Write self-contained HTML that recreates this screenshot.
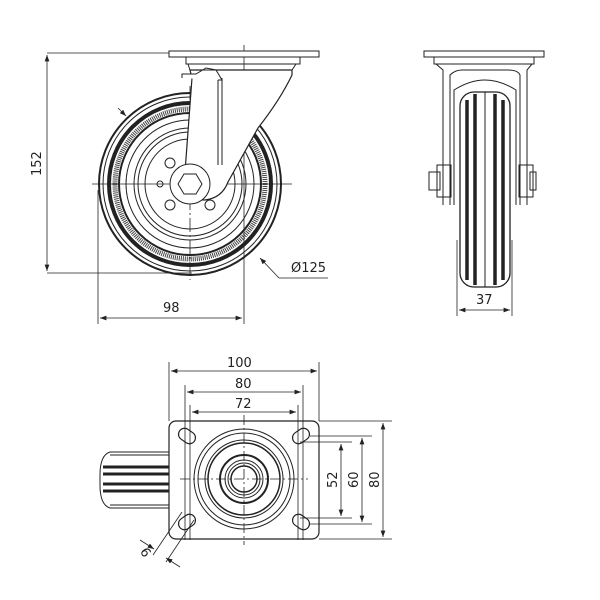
<!DOCTYPE html>
<html><head><style>body{margin:0;background:#fff}svg{display:block}text{font-family:"DejaVu Sans","Liberation Sans",sans-serif;font-size:13px;fill:#222;stroke:none}</style></head><body>
<svg width="600" height="600" viewBox="0 0 600 600" fill="none" stroke="#222" stroke-width="1">
<defs><marker id="a" markerWidth="8" markerHeight="6" refX="8" refY="3" orient="auto-start-reverse"><path d="M0,0L8,3L0,6z" fill="#222" stroke="none"/></marker></defs>
<!-- SIDE VIEW -->
<g stroke-width="0.8">
<line x1="47" y1="53" x2="170" y2="53"/><line x1="47" y1="273" x2="192" y2="273"/>
<line x1="47" y1="55" x2="47" y2="271" marker-start="url(#a)" marker-end="url(#a)"/>
<line x1="98" y1="190" x2="98" y2="324"/><line x1="244" y1="45" x2="244" y2="324"/>
<line x1="100" y1="318" x2="242" y2="318" marker-start="url(#a)" marker-end="url(#a)"/>
<line x1="118" y1="108" x2="126" y2="116" marker-end="url(#a)"/>
<path d="M279,278 L260,258" marker-end="url(#a)"/><line x1="279" y1="278" x2="328" y2="278"/>
<line x1="92" y1="184" x2="292" y2="184"/><line x1="190" y1="86" x2="190" y2="280" stroke-dasharray="14 3 2 3"/>
</g>
<text transform="translate(41,176) rotate(-90)">152</text>
<text x="163" y="312">98</text>
<text x="291" y="272">Ø125</text>
<g>
<circle cx="190" cy="184" r="91" stroke-width="2"/>
<circle cx="190" cy="184" r="87"/>
<circle cx="190" cy="184" r="81" stroke-width="4"/>
<circle cx="190" cy="184" r="75" stroke-width="5" stroke="#444" stroke-dasharray="1 1"/>
<circle cx="190" cy="184" r="71" stroke-width="2"/>
<circle cx="190" cy="184" r="64"/>
<circle cx="190" cy="184" r="56"/>
<circle cx="190" cy="184" r="52"/>
<circle cx="190" cy="184" r="45"/>
<circle cx="160" cy="184" r="3"/><circle cx="221" cy="184" r="3"/>
<circle cx="170" cy="163" r="5"/><circle cx="170" cy="205" r="5"/><circle cx="210" cy="205" r="5"/><circle cx="210" cy="163" r="5"/>
<path d="M192,78 L185,172 Q183,200 205,200 Q222,198 228,182 L258,128 Q280,100 292,75 L292,70 L190,70 Z" fill="#fff" stroke-width="1.2"/>
<line x1="222" y1="78" x2="222" y2="165"/><line x1="218" y1="78" x2="218" y2="165"/>
<path d="M182,78 L182,74 L196,74 L206,68 L216,70 L222,80 L218,80" fill="#fff"/>
<rect x="169" y="51" width="150" height="6" fill="#fff"/>
<path d="M186,57 L186,64 L300,64 L300,57 M188,64 L190,70 L292,70 L296,64"/>
<circle cx="190" cy="184" r="20" fill="#fff"/>
<polygon points="202,184 196,194 184,194 178,184 184,174 196,174" fill="#fff"/>
</g>
<!-- FRONT VIEW -->
<g>
<rect x="424" y="51" width="120" height="6"/>
<path d="M434,57 L434,64 L534,64 L534,57"/>
<path d="M436,64 L443,70 L443,205 M532,64 L527,70 L527,205"/>
<path d="M450,205 L450,75 Q455,70 462,70 L508,70 Q518,70 520,75 L520,205"/>
<path d="M454,205 L454,90 Q470,80 485,80 Q500,80 516,90 L516,205"/>
<rect x="437" y="165" width="14" height="32"/><rect x="519" y="165" width="14" height="32"/>
<rect x="429" y="172" width="11" height="18"/><rect x="530" y="172" width="6" height="18"/>
<rect x="460" y="92" width="50" height="195" rx="14" fill="#fff" stroke-width="1.3"/>
<g stroke-width="3.5"><line x1="467" y1="100" x2="467" y2="280"/><line x1="475" y1="94" x2="475" y2="285"/><line x1="495" y1="94" x2="495" y2="285"/><line x1="503" y1="100" x2="503" y2="280"/></g>
<line x1="485" y1="92" x2="485" y2="287"/>
<g stroke-width="0.8"><line x1="457" y1="240" x2="457" y2="316"/><line x1="512" y1="240" x2="512" y2="316"/>
<line x1="459" y1="310" x2="510" y2="310" marker-start="url(#a)" marker-end="url(#a)"/></g>
</g>
<text x="476" y="304">37</text>
<!-- BOTTOM VIEW -->
<g>
<path d="M169,452 L110,452 Q100,455 100,475 L100,485 Q100,505 110,508 L169,508" />
<g stroke-width="3"><line x1="103" y1="467" x2="169" y2="467"/><line x1="103" y1="474" x2="169" y2="474"/><line x1="103" y1="484" x2="169" y2="484"/><line x1="103" y1="491" x2="169" y2="491"/></g>
<line x1="110" y1="455" x2="169" y2="455"/><line x1="110" y1="505" x2="169" y2="505"/>
<rect x="169" y="421" width="150" height="118" rx="7" fill="#fff" stroke-width="1.2"/>
<circle cx="244" cy="479" r="50"/><circle cx="244" cy="479" r="46"/>
<circle cx="244" cy="479" r="39"/><circle cx="244" cy="479" r="36" stroke-width="1.5"/>
<circle cx="244" cy="479" r="24" stroke-width="2"/><circle cx="244" cy="479" r="19"/><circle cx="244" cy="479" r="16"/><circle cx="244" cy="479" r="13" stroke-width="1.5"/>
<g stroke-width="1.2">
<rect x="178" y="430" width="18" height="12" rx="6" transform="rotate(35 187 436)"/>
<rect x="292" y="430" width="18" height="12" rx="6" transform="rotate(-35 301 436)"/>
<rect x="178" y="516" width="18" height="12" rx="6" transform="rotate(-35 187 522)"/>
<rect x="292" y="516" width="18" height="12" rx="6" transform="rotate(35 301 522)"/>
</g>
<g stroke-width="0.8">
<line x1="244" y1="415" x2="244" y2="545" stroke-dasharray="10 3 2 3"/><line x1="180" y1="479" x2="308" y2="479" stroke-dasharray="10 3 2 3"/>
<line x1="169" y1="362" x2="169" y2="421"/><line x1="319" y1="362" x2="319" y2="421"/>
<line x1="185" y1="385" x2="185" y2="540"/><line x1="303" y1="385" x2="303" y2="540"/>
<line x1="190" y1="405" x2="190" y2="540"/><line x1="298" y1="405" x2="298" y2="540"/>
<line x1="171" y1="371" x2="317" y2="371" marker-start="url(#a)" marker-end="url(#a)"/>
<line x1="187" y1="392" x2="301" y2="392" marker-start="url(#a)" marker-end="url(#a)"/>
<line x1="192" y1="412" x2="296" y2="412" marker-start="url(#a)" marker-end="url(#a)"/>
<line x1="319" y1="421" x2="392" y2="421"/><line x1="319" y1="539" x2="392" y2="539"/>
<line x1="310" y1="436" x2="372" y2="436"/><line x1="310" y1="524" x2="372" y2="524"/>
<line x1="300" y1="442" x2="352" y2="442"/><line x1="300" y1="518" x2="352" y2="518"/>
<line x1="341" y1="444" x2="341" y2="516" marker-start="url(#a)" marker-end="url(#a)"/>
<line x1="362" y1="438" x2="362" y2="522" marker-start="url(#a)" marker-end="url(#a)"/>
<line x1="383" y1="423" x2="383" y2="537" marker-start="url(#a)" marker-end="url(#a)"/>
<line x1="194" y1="520" x2="166" y2="562"/><line x1="182" y1="512" x2="153" y2="555"/>
<line x1="140" y1="540" x2="154" y2="549" marker-end="url(#a)"/><line x1="180" y1="567" x2="166" y2="558" marker-end="url(#a)"/>
</g>
</g>
<text x="227" y="367">100</text>
<text x="235" y="388">80</text>
<text x="235" y="408">72</text>
<text transform="translate(337,488) rotate(-90)">52</text>
<text transform="translate(358,488) rotate(-90)">60</text>
<text transform="translate(379,488) rotate(-90)">80</text>
<text transform="translate(152,553) rotate(-124)">9</text>
</svg>
</body></html>
